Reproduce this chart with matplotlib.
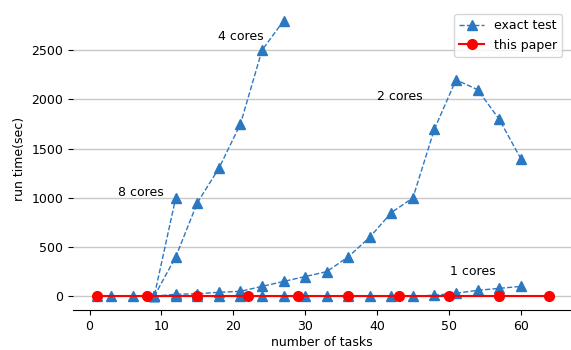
import numpy as np
import matplotlib.pyplot as plt

#exact test, one run per core count
x8 = [1, 3, 6, 9, 12]
y8 = [0, 0, 0, 0, 1000]

x4 = [9, 12, 15, 18, 21, 24, 27]
y4 = [0, 400, 950, 1300, 1750, 2500, 2800]

x2 = [9, 12, 15, 18, 21, 24, 27, 30, 33, 36, 39, 42, 45, 48, 51, 54, 57, 60]
y2 = [0, 20, 25, 40, 50, 100, 150, 200, 250, 400, 600, 850, 1000, 1700, 2200, 2100, 1800, 1400]

x1 = [9, 12, 15, 18, 21, 24, 27, 30, 33, 36, 39, 42, 45, 48, 51, 54, 57, 60]
y1 = [0, 0, 0, 0, 0, 0, 0, 0, 0, 0, 0, 0, 0, 10, 30, 60, 80, 100]

#this paper
xp = [1, 8, 15, 22, 29, 36, 43, 50, 57, 64]
yp = [0, 0, 0, 0, 0, 0, 0, 0, 0, 0]

labels = [("4 cores", 17.9, 2640), ("8 cores", 4.0, 1050),
          ("2 cores", 40.0, 2030), ("1 cores", 50.1, 250)]

blue = '#2b78c2'

fig = plt.figure(figsize=(5.71, 3.5), dpi=100)
ax = fig.add_axes([73/571, 40/350, 1 - 73/571, 302/350])

ax.plot(x8, y8, '--^', color=blue, lw=1, ms=7, label='exact test')
ax.plot(x4, y4, '--^', color=blue, lw=1, ms=7)
ax.plot(x2, y2, '--^', color=blue, lw=1, ms=7)
ax.plot(x1, y1, '--^', color=blue, lw=1, ms=7)
ax.plot(xp, yp, '-o', color='red', lw=1.5, ms=7, label='this paper')

for txt, tx, ty in labels:
    ax.text(tx, ty, txt, fontsize=9, va='center', ha='left')

ax.set_xlim(-2.3, 67)
ax.set_ylim(-140, 2930)
ax.set_yticks([0, 500, 1000, 1500, 2000, 2500])
ax.set_xticks([0, 10, 20, 30, 40, 50, 60])
ax.yaxis.grid(True, color='#c8c8c8', lw=1)
ax.set_axisbelow(True)
for s in ['left', 'top', 'right']:
    ax.spines[s].set_visible(False)
ax.tick_params(labelsize=9)
ax.set_xlabel('number of tasks', fontsize=9, labelpad=2)
ax.set_ylabel('run time(sec)', fontsize=9)

ax.legend(loc='upper right', fontsize=9, bbox_to_anchor=(0.995, 1.0))

fig.savefig('out.png', dpi=100)
